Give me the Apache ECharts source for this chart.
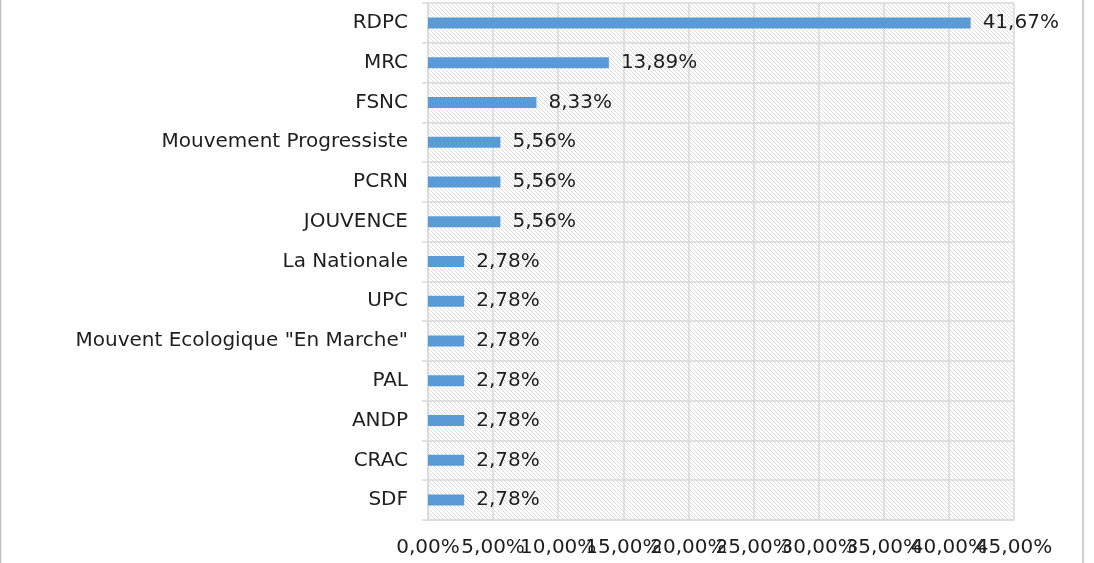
<!DOCTYPE html>
<html><head><meta charset="utf-8">
<script src="https://cdn.jsdelivr.net/npm/echarts@6/dist/echarts.min.js"></script>
<style>html,body{margin:0;padding:0;background:#fff}#c{width:1094px;height:563px}</style>
</head><body><div id="c"></div>
<script>
const categories = ["RDPC","MRC","FSNC","Mouvement Progressiste","PCRN","JOUVENCE","La Nationale","UPC","Mouvent Ecologique \"En Marche\"","PAL","ANDP","CRAC","SDF"];
const values = [41.67,13.89,8.33,5.56,5.56,5.56,2.78,2.78,2.78,2.78,2.78,2.78,2.78];
const xTicks = [0,5,10,15,20,25,30,35,40,45];

const pc = document.createElement('canvas');
pc.width = 4; pc.height = 4;
const g = pc.getContext('2d');
g.fillStyle = '#dcdcdc';
for (let i = 0; i < 4; i++) g.fillRect(i, i, 1, 1);

const FONT = 'DejaVu Sans';
const FS = 20;
const TXT = '#1e1e1e';
const fmt = v => v.toFixed(2).replace('.', ',') + '%';
const labelBase = {formatter: v => fmt(v), color: TXT, fontSize: FS, margin: 18, fontFamily: FONT, hideOverlap: false};
const xMin = xTicks[0], xMax = xTicks[xTicks.length-1];
const chart = echarts.init(document.getElementById('c'));
chart.setOption({
  animation: false,
  textStyle: {fontFamily: FONT},
  grid: {left: 428, right: 80, top: 3, bottom: 43, show: true, borderWidth: 0,
         backgroundColor: {image: pc, repeat: 'repeat'}},
  xAxis: [
    {type: 'value', min: xMin, max: xMax, interval: 5, position: 'bottom',
      axisLine: {show: true, lineStyle: {color: '#d9d9d9', width: 1.5}},
      axisTick: {show: false},
      splitLine: {show: true, lineStyle: {color: '#d9d9d9', width: 1.5}},
      axisLabel: Object.assign({customValues: xTicks.filter((v, i) => i % 2 === 0)}, labelBase)
    },
    {type: 'value', min: xMin, max: xMax, interval: 5, position: 'bottom',
      axisLine: {show: false}, axisTick: {show: false}, splitLine: {show: false},
      axisLabel: Object.assign({customValues: xTicks.filter((v, i) => i % 2 === 1)}, labelBase)
    }
  ],
  yAxis: {type: 'category', data: categories, inverse: true,
    axisLine: {show: true, lineStyle: {color: '#d9d9d9', width: 1.5}},
    axisTick: {show: true, length: 6, lineStyle: {color: '#d9d9d9', width: 1.5}},
    splitLine: {show: true, lineStyle: {color: '#d9d9d9', width: 1.5}},
    axisLabel: {color: TXT, fontSize: FS, margin: 20, fontFamily: FONT}
  },
  series: [{type: 'bar', data: values, barWidth: 11, xAxisIndex: 0,
    itemStyle: {color: '#5b9bd5'},
    label: {show: true, position: 'right', distance: 12, formatter: p => fmt(p.value),
      color: TXT, fontSize: FS, fontFamily: FONT}
  }],
  graphic: [
    {type: 'line', shape: {x1: 0.5, y1: 0, x2: 0.5, y2: 563}, style: {stroke: '#bfbfbf', lineWidth: 1.5}},
    {type: 'line', shape: {x1: 1083, y1: 0, x2: 1083, y2: 563}, style: {stroke: '#bfbfbf', lineWidth: 1.5}}
  ]
});
</script></body></html>
